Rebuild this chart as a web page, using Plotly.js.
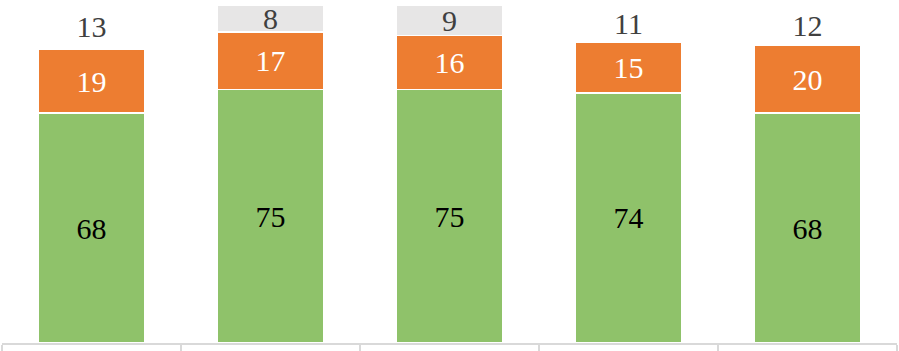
<!DOCTYPE html>
<html>
<head>
<meta charset="utf-8">
<script src="https://cdn.plot.ly/plotly-3.0.1.min.js"></script>
<style>html,body{margin:0;padding:0;background:#fff;}#chart{width:899px;height:351px;}</style>
</head>
<body>
<div id="chart"></div>
<script>
var categories = ['A', 'B', 'C', 'D', 'E'];
var greenValues = [68, 75, 75, 74, 68];
var orangeValues = [19, 17, 16, 15, 20];
var grayValues = [13, 8, 9, 11, 12];
var grayFills = ['#ffffff', '#e7e6e6', '#e7e6e6', '#ffffff', '#ffffff'];

var fontFam = '"Liberation Serif", "Times New Roman", serif';
function seg(vals, color, textColor) {
  return {
    type: 'bar',
    x: categories,
    y: vals,
    text: vals.map(String),
    texttemplate: '%{text}',
    textposition: 'inside',
    insidetextanchor: 'middle',
    textangle: 0,
    constraintext: 'none',
    textfont: {family: fontFam, size: 30, color: textColor},
    marker: {color: color, line: {color: '#ffffff', width: 1.5}},
    hoverinfo: 'none',
    cliponaxis: false
  };
}
var data = [
  seg(greenValues, '#8fc26a', '#000000'),
  seg(orangeValues, '#ed7d31', '#ffffff'),
  seg(grayValues, grayFills, '#404040')
];
var layout = {
  width: 899, height: 351,
  margin: {l: 2, r: 2, t: 5, b: 8, pad: 0},
  barmode: 'stack',
  bargap: 0.405,
  showlegend: false,
  paper_bgcolor: '#ffffff',
  plot_bgcolor: '#ffffff',
  uniformtext: {mode: 'show', minsize: 30},
  xaxis: {
    showline: true, linecolor: '#d9d9d9', linewidth: 1.5,
    ticks: 'outside', ticklen: 8, tickcolor: '#d9d9d9', tickwidth: 1.5,
    tickson: 'boundaries', showticklabels: false, showgrid: false, zeroline: false,
    fixedrange: true
  },
  yaxis: {range: [0, 100], visible: false, showgrid: false, zeroline: false, fixedrange: true}
};
Plotly.newPlot('chart', data, layout, {staticPlot: true, displayModeBar: false});
</script>
</body>
</html>
